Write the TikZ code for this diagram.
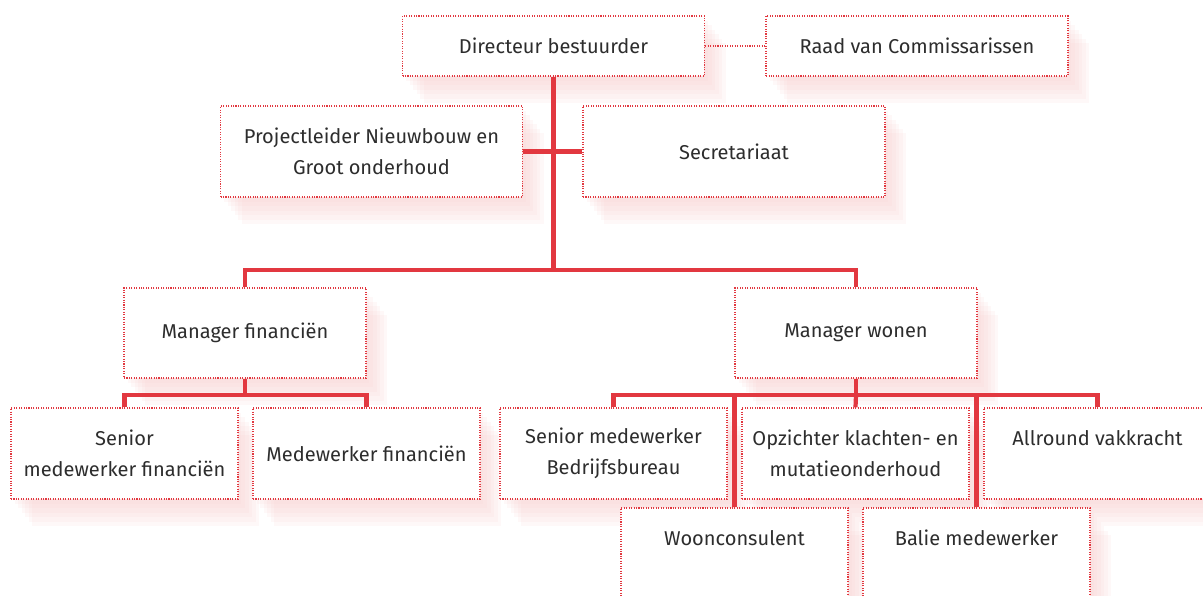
\documentclass[tikz,border=0pt]{standalone}
\usepackage{fontspec}
\setmainfont{Fira Sans}
\usetikzlibrary{shadows}
\definecolor{orgred}{RGB}{226,56,64}
\definecolor{orgtext}{RGB}{45,45,45}
\definecolor{orgshade}{RGB}{247,205,205}
\begin{document}
\begin{tikzpicture}[x=0.02cm,y=-0.02cm,
        softshade/.style={general shadow={fill=orgshade,fill opacity=0.14,shadow xshift=#1,shadow yshift=-1.3*#1}},
        box/.style={draw=orgred,line width=0.8pt,dash pattern=on 0.6pt off 0.8pt,fill=white,
            text=orgtext,font=\fontsize{11.4}{17.5}\selectfont,align=center,inner sep=0pt,
            softshade=2pt,softshade=4pt,softshade=6pt,softshade=8pt,softshade=10pt,softshade=12pt},
        wide/.style={box,minimum width=6.04cm},
        mid/.style={box,minimum width=4.84cm,minimum height=1.8cm},
        small/.style={box,minimum width=4.54cm,minimum height=1.82cm},
        orgline/.style={draw=orgred,line width=2.4pt},
        dotline/.style={draw=orgred,line width=0.8pt,dash pattern=on 0.6pt off 0.8pt}]
    \useasboundingbox (0,0) rectangle (1203,595);
    \node[wide,minimum height=1.2cm] (dir) at (553.5,46) {Directeur bestuurder};
    \node[wide,minimum height=1.2cm] (raad) at (917,46) {Raad van Commissarissen};
    \node[wide,minimum height=1.82cm] (proj) at (371.5,151.5) {Projectleider Nieuwbouw en\\Groot onderhoud};
    \node[wide,minimum height=1.82cm] (sec) at (734,151.5) {Secretariaat};
    \node[mid] (mf) at (245,333) {Manager financiën};
    \node[mid] (mw) at (856,333) {Manager wonen};
    \node[small] (sf) at (124.5,453.5) {Senior\\medewerker financiën};
    \node[small] (mdf) at (366.5,453.5) {Medewerker financiën};
    \node[small] (smb) at (613.5,453.5) {Senior medewerker\\Bedrijfsbureau};
    \node[small] (opz) at (855.5,453.5) {Opzichter klachten- en\\mutatieonderhoud};
    \node[small] (all) at (1097.5,453.5) {Allround vakkracht\\~};
    \node[small] (woon) at (734.5,553.5) {Woonconsulent\\~};
    \node[small] (balie) at (976.5,553.5) {Balie medewerker\\~};
    \coordinate (top) at (553.5,270);
    \coordinate (fbar) at (245,395);
    \coordinate (wbar) at (856,395);
    \draw[dotline] (dir.east) -- (raad.west);
    \draw[orgline] (dir.south) -- (top);
    \draw[orgline] (proj.east) -- (sec.west);
    \draw[orgline] (mf.north) |- (top) -| (mw.north);
    \draw[orgline] (mf.south) -- (fbar);
    \draw[orgline] (sf.north) |- (fbar) -| (mdf.north);
    \draw[orgline] (mw.south) -- (wbar);
    \draw[orgline] (smb.north) |- (wbar) -| (all.north);
    \draw[orgline] (wbar) -- (opz.north);
    \draw[orgline] (woon.north) -- (woon.north |- wbar);
    \draw[orgline] (balie.north) -- (balie.north |- wbar);
\end{tikzpicture}
\end{document}
